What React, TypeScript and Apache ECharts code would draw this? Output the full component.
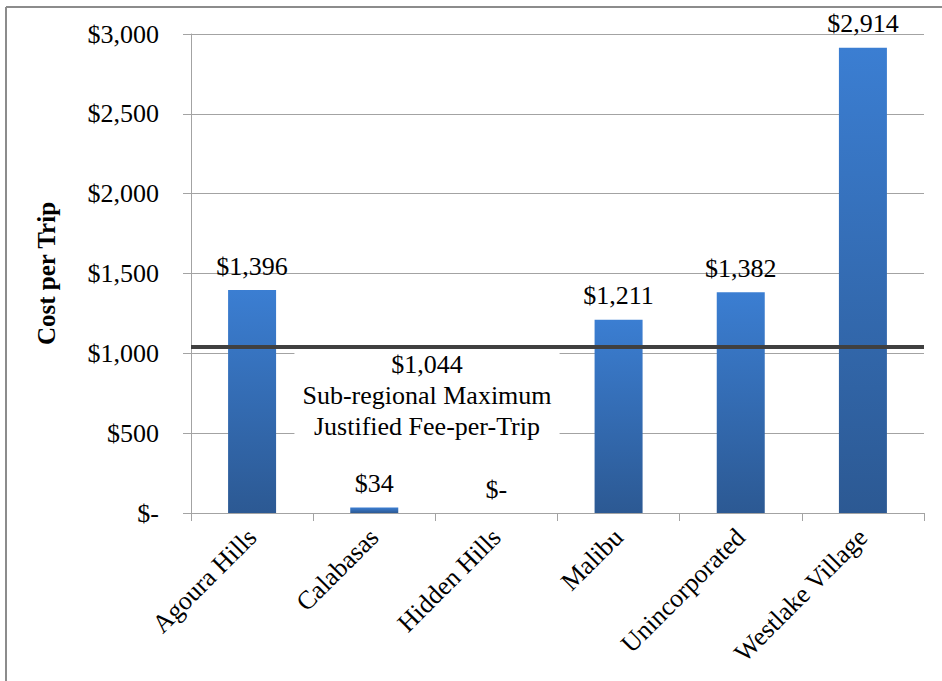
import React, { useEffect, useRef } from "react";
import * as echarts from "echarts";

// Cost per trip by jurisdiction, with the sub-regional maximum fee as a reference line
const categories = [
  "Agoura Hills",
  "Calabasas",
  "Hidden Hills",
  "Malibu",
  "Unincorporated",
  "Westlake Village",
];
const costPerTrip = [1396, 34, 0, 1211, 1382, 2914];
const maxFeePerTrip = 1044;
const maxFeeCaption = ["Sub-regional Maximum", "Justified Fee-per-Trip"];
const yMin = 0;
const yMax = 3000;
const yStep = 500;

const FONT = "'Liberation Serif', 'Times New Roman', serif";
const GRID_GREY = "#a3a3a3";

const money = (v: number) =>
  v === 0 ? "$-" : "$" + Math.round(v).toLocaleString("en-US");

export default function App() {
  const ref = useRef<HTMLDivElement>(null);

  useEffect(() => {
    if (!ref.current) return;
    const chart = echarts.init(ref.current, undefined, { renderer: "svg" });

    chart.setOption({
      animation: false,
      backgroundColor: "#ffffff",
      textStyle: { fontFamily: FONT },
      grid: { left: 191, right: 18, top: 34, bottom: 168, containLabel: false },
      xAxis: {
        type: "category",
        data: categories,
        axisLine: { show: true, lineStyle: { color: GRID_GREY, width: 1 } },
        axisTick: {
          show: true,
          interval: 0,
          alignWithLabel: false,
          length: 8,
          lineStyle: { color: GRID_GREY },
        },
        axisLabel: {
          interval: 0,
          rotate: 45,
          margin: 20,
          fontSize: 26,
          fontFamily: FONT,
          color: "#000000",
        },
      },
      yAxis: {
        type: "value",
        min: yMin,
        max: yMax,
        interval: yStep,
        name: "Cost per Trip",
        nameLocation: "middle",
        nameRotate: 90,
        nameGap: 132,
        nameTextStyle: {
          fontSize: 25,
          fontWeight: "bold",
          fontFamily: FONT,
          color: "#000000",
        },
        axisLine: { show: true, lineStyle: { color: GRID_GREY, width: 1 } },
        axisTick: { show: true, length: 8, lineStyle: { color: GRID_GREY } },
        splitLine: { show: true, lineStyle: { color: GRID_GREY, width: 1 } },
        axisLabel: {
          margin: 32,
          fontSize: 26,
          fontFamily: FONT,
          color: "#000000",
          formatter: (v: number) => money(v),
        },
      },
      series: [
        {
          type: "bar",
          data: costPerTrip,
          barWidth: 48,
          itemStyle: {
            color: new echarts.graphic.LinearGradient(0, 0, 0, 1, [
              { offset: 0, color: "#3b7ed2" },
              { offset: 1, color: "#2c5993" },
            ]),
          },
          label: {
            show: true,
            position: "top",
            distance: 11,
            fontSize: 26,
            fontFamily: FONT,
            color: "#000000",
            formatter: (p: any) => money(p.value),
          },
          markLine: {
            silent: true,
            symbol: "none",
            label: { show: false },
            lineStyle: { color: "#404040", width: 4, type: "solid" },
            data: [{ yAxis: maxFeePerTrip }],
          },
          z: 3,
        },
      ],
    });

    // Caption under the reference line, placed from the line's own value
    const lineY = chart.convertToPixel({ yAxisIndex: 0 }, maxFeePerTrip) as number;
    chart.setOption({
      graphic: [
        {
          type: "line",
          z: 10,
          shape: { x1: 6, y1: 7, x2: 942, y2: 7 },
          style: { stroke: "#8c8c8c", lineWidth: 2 },
        },
        {
          type: "line",
          z: 10,
          shape: { x1: 6, y1: 7, x2: 6, y2: 681 },
          style: { stroke: "#8c8c8c", lineWidth: 2 },
        },
        {
          type: "text",
          z: 1,
          x: 427,
          y: lineY + 3,
          style: {
            text: [money(maxFeePerTrip), ...maxFeeCaption].join("\n"),
            fontFamily: FONT,
            fontSize: 26,
            lineHeight: 31,
            fill: "#000000",
            align: "center",
            verticalAlign: "top",
            backgroundColor: "#ffffff",
            padding: [0, 8],
          },
        },
      ],
    });

    return () => chart.dispose();
  }, []);

  return (
    <div
      ref={ref}
      style={{ position: "fixed", left: 0, top: 0, width: 942, height: 681 }}
    />
  );
}
